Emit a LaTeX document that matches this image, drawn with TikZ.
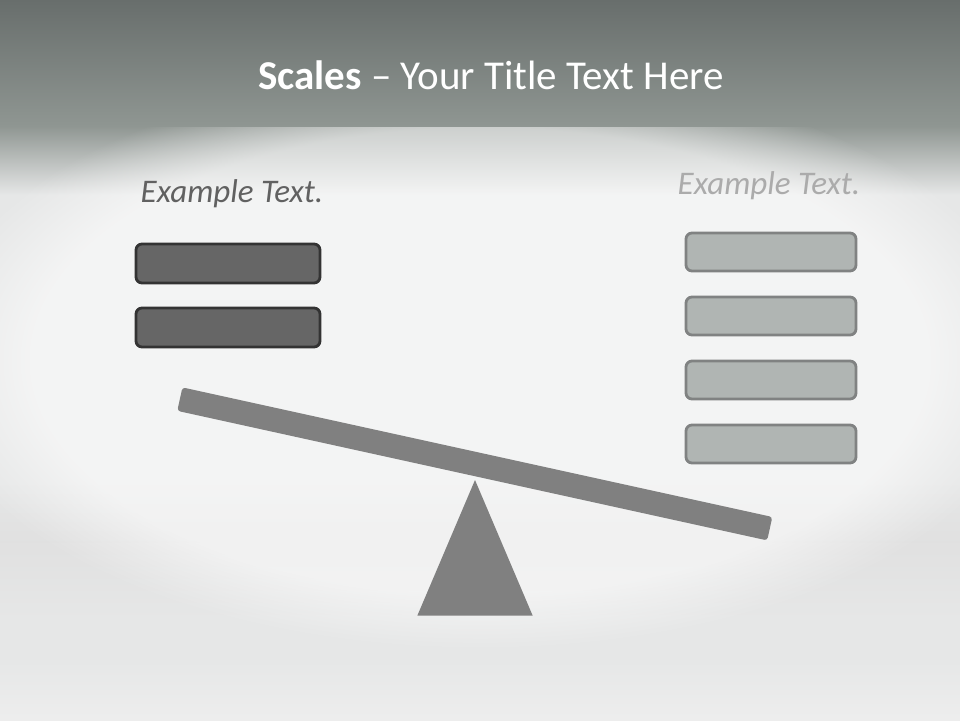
\documentclass[tikz,border=0pt]{standalone}
\usepackage{fontspec}
\setmainfont{Carlito}
\usepackage{tikz}
\usetikzlibrary{positioning, fadings}

\definecolor{bandtop}{RGB}{104,110,108}
\definecolor{bandbot}{RGB}{143,150,146}
\definecolor{floor}{RGB}{230,231,231}
\definecolor{darkfill}{RGB}{102,102,102}
\definecolor{darkline}{RGB}{51,51,51}
\definecolor{lightfill}{RGB}{176,181,179}
\definecolor{lightline}{RGB}{128,130,130}
\definecolor{beamgray}{RGB}{128,128,128}

\begin{document}
\begin{tikzpicture}[
        x=1pt, y=-1pt,
        darkbox/.style={rectangle, rounded corners=6pt, draw=darkline, fill=darkfill, line width=2.8pt, minimum width=184pt, minimum height=39pt, inner sep=0pt},
        lightbox/.style={rectangle, rounded corners=6pt, draw=lightline, fill=lightfill, line width=2.8pt, minimum width=170pt, minimum height=38pt, inner sep=0pt},
        beam/.style={rectangle, rounded corners=3pt, fill=beamgray, minimum width=604pt, minimum height=24pt, inner sep=0pt},
        pivot/.style={fill=beamgray},
        label/.style={font=\fontsize{33}{36}\selectfont\itshape, inner sep=0pt}
        ]

        % Background
        \useasboundingbox (0,0) rectangle (960,720);
        \fill[floor] (0,0) rectangle (960,720);
        \shade[top color=floor, bottom color=black!12] (0,480) rectangle (960,541);
        \shade[top color=black!12, bottom color=floor] (0,541) rectangle (960,620);
        \shade[top color=floor, bottom color=black!7] (0,660) rectangle (960,720);
        \shade[top color=bandbot, bottom color=floor] (0,126) rectangle (960,195);
        \begin{scope}
            \clip (0,126) rectangle (960,720);
            \fill[white, path fading=circle with fuzzy edge 20 percent, opacity=0.55] (480,360) ellipse (560 and 290);
        \end{scope}
        \shade[top color=bandtop, bottom color=bandbot] (0,0) rectangle (960,126);

        % Title
        \node[text=white, font=\fontsize{41}{44}\selectfont, inner sep=0pt] (title) at (491,75) {\textbf{Scales} – Your Title Text Here};

        % Left pan
        \node[label, text=black!62] (lefttext) at (232,194) {Example Text.};
        \foreach \i in {1,2} {
            \node[darkbox] (l\i) at (228, {263.5+(\i-1)*64}) {};
        }

        % Right pan
        \node[label, text=black!33] (righttext) at (769,186) {Example Text.};
        \foreach \i in {1,2,3,4} {
            \node[lightbox] (r\i) at (771, {252+(\i-1)*64}) {};
        }

        % Seesaw
        \fill[pivot] (475,480) coordinate (apex) -- (532.7,615.7) coordinate (baseR) -- (417.3,615.7) coordinate (baseL) -- cycle;
        \node[beam, rotate=-12.39] (plank) at (474.8,463.9) {};

\end{tikzpicture}
\end{document}
